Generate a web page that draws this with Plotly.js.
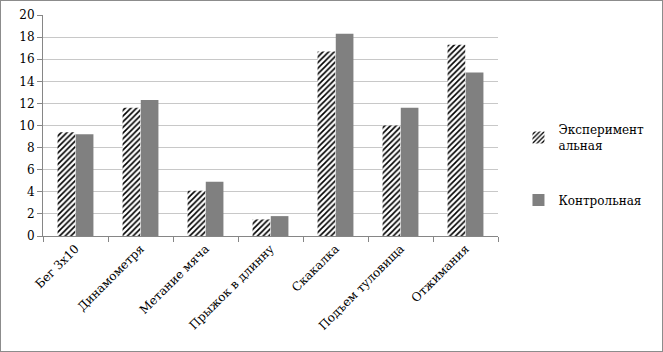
<!DOCTYPE html>
<html><head><meta charset="utf-8">
<script src="https://cdn.plot.ly/plotly-3.0.1.min.js"></script>
<style>html,body{margin:0;padding:0;background:#fff}
#c{width:663px;height:352px;box-sizing:border-box;border:1px solid #8c8c8c}</style>
</head><body><div id="c"></div>
<script>
const categories = ["Бег 3x10","Динамометря","Метание мяча","Прыжок в длинну","Скакалка","Подъем туловища","Отжимания"];
const experimental = [9.4, 11.6, 4.1, 1.5, 16.7, 10.0, 17.3];
const control = [9.2, 12.3, 4.9, 1.8, 18.3, 11.6, 14.8];
const seriesNames = ["Эксперимент<br>альная", "Контрольная"];
const yTicks = [0,2,4,6,8,10,12,14,16,18,20];

const font = "'DejaVu Serif', 'Liberation Serif', serif";
const data = [
  {type:"bar", x:categories, y:experimental, name:seriesNames[0], legendgroup:"a",
   marker:{color:"#fff", line:{width:0}, pattern:{shape:"/", fgcolor:"#000", bgcolor:"#fff", size:4, solidity:0.4}}},
  {type:"bar", x:categories, y:control, name:seriesNames[1], legendgroup:"b",
   marker:{color:"#808080", line:{width:0}}}
];
const layout = {
  width:661, height:350,
  margin:{l:42, r:164, t:14, b:115},
  paper_bgcolor:"#fff", plot_bgcolor:"#fff",
  font:{family:font, size:12, color:"#000"},
  barmode:"group", bargap:0.44, bargroupgap:0.03,
  showlegend:true,
  legend:{x:1.045, y:0.32, xanchor:"left", yanchor:"middle", tracegroupgap:36, font:{family:font, size:12}, itemwidth:30},
  xaxis:{type:"category", showline:true, linecolor:"#868686", linewidth:1, ticks:"outside", tickson:"boundaries", ticklen:5, tickcolor:"#868686",
         tickangle:-45, tickfont:{family:font, size:12}, showgrid:false, zeroline:false},
  yaxis:{range:[0,20], tickvals:yTicks, showline:true, linecolor:"#868686", linewidth:1, ticks:"outside", ticklen:5, tickcolor:"#868686",
         gridcolor:"#c8c8c8", gridwidth:1, zeroline:false, tickfont:{family:font, size:12}}
};
Plotly.newPlot("c", data, layout, {displayModeBar:false});
</script></body></html>
